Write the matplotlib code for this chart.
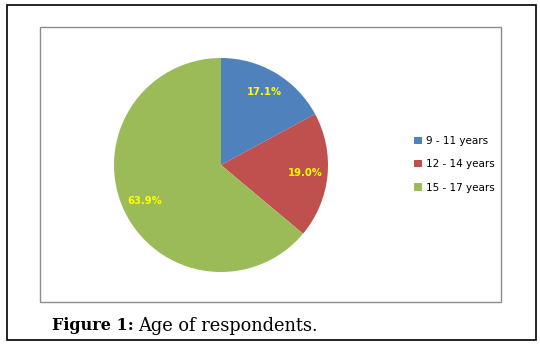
import matplotlib
matplotlib.use("Agg")
import matplotlib.pyplot as plt
from matplotlib.patches import Rectangle

categories = ["9 - 11 years", "12 - 14 years", "15 - 17 years"]
values = [17.1, 19.0, 63.9]
colors = ["#4F81BD", "#C0504D", "#9BBB59"]

W, H = 540, 348
fig = plt.figure(figsize=(W / 100, H / 100), dpi=100)
fig.patch.set_facecolor("white")

def px(x0, y0, x1, y1):
    return [x0 / W, 1 - y1 / H, (x1 - x0) / W, (y1 - y0) / H]

# outer black frame
fig.patches.append(Rectangle((7 / W, 1 - 340 / H), (536 - 7) / W, (340 - 5) / H,
                             transform=fig.transFigure, fill=False, edgecolor="black", linewidth=1.2))
# inner grey frame
fig.patches.append(Rectangle((40 / W, 1 - 302 / H), (501 - 40) / W, (302 - 27) / H,
                             transform=fig.transFigure, fill=False, edgecolor="#8c8c8c", linewidth=1.0))

cx, cy, r = 221, 165, 107
ax = fig.add_axes(px(cx - r, cy - r, cx + r, cy + r))
wedges, texts, autotexts = ax.pie(values, colors=colors, startangle=90, counterclock=False,
                                  autopct="%1.1f%%", pctdistance=0.79, radius=1.0,
                                  wedgeprops=dict(linewidth=0),
                                  textprops=dict(color="#FFFF00", fontsize=7.2, fontweight="bold"))
ax.set_xlim(-1, 1)
ax.set_ylim(-1, 1)
ax.set_aspect("equal")
ax.axis("off")

fig.legend(wedges, categories, loc="center left", bbox_to_anchor=(405 / W, 1 - 164.5 / H),
           frameon=False, handlelength=0.7, handleheight=0.7, handletextpad=0.4,
           labelspacing=1.25, fontsize=7.5)

t1 = fig.text(52 / W, 1 - 326 / H, "Figure 1:", fontsize=11.5, fontweight="bold",
              family="DejaVu Serif", va="center", ha="left")
fig.canvas.draw()
bb = t1.get_window_extent(renderer=fig.canvas.get_renderer())
x_next = (bb.x1 + 4) / W
fig.text(x_next, 1 - 326 / H, "Age of respondents.", fontsize=12.8,
         family="DejaVu Serif", va="center", ha="left")

fig.savefig("out.png", dpi=100, facecolor="white")
